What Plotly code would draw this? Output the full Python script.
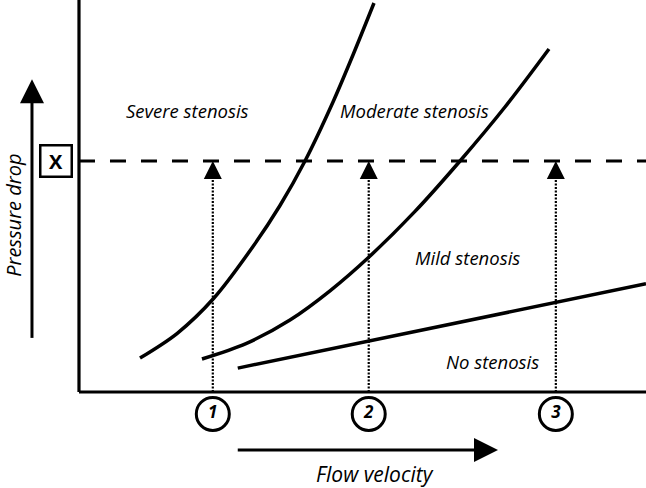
import plotly.graph_objects as go

# ---- data (flow velocity units, pressure drop units; axes origin at 0,0) ----
severe_x = [1.076, 1.728, 2.381, 3.069, 3.545, 3.986, 4.480, 4.832, 5.203]
severe_y = [0.867, 1.492, 2.398, 3.712, 4.758, 5.893, 7.398, 8.597, 9.923]

moderate_x = [2.169, 2.945, 3.721, 4.427, 5.115, 5.926, 6.720, 7.513, 8.289]
moderate_y = [0.842, 1.235, 1.837, 2.582, 3.444, 4.607, 5.893, 7.270, 8.750]

none_x = [2.80, 10.0]
none_y = [0.61, 2.76]

threshold_x = 5.89           # pressure drop "X"
flow_points = [2.36, 5.11, 8.41]
flow_labels = ["1", "2", "3"]

region_labels = ["Severe stenosis", "Moderate stenosis", "Mild stenosis", "No stenosis"]
region_x = [1.92, 5.91, 6.86, 7.30]
region_y = [7.19, 7.19, 3.42, 0.77]

# view extents (axes drawn manually so labels below/left fit in the same scale)
X_RANGE = [-1.393, 10.0]
Y_RANGE = [-2.449, 10.0]

FONT = "Open Sans"
BLACK = "black"

fig = go.Figure()


def line(xs, ys, width=3, dash=None, shape="linear"):
    fig.add_trace(go.Scatter(x=xs, y=ys, mode="lines",
                             line=dict(color=BLACK, width=width, dash=dash,
                                       shape=shape, smoothing=0.9),
                             hoverinfo="skip", showlegend=False))


def markers(xs, ys, symbol, size, **kw):
    fig.add_trace(go.Scatter(x=xs, y=ys, mode="markers",
                             marker=dict(symbol=symbol, size=size, color=BLACK,
                                         line=dict(width=0)),
                             hoverinfo="skip", showlegend=False, **kw))


# axes lines
line([0, 0], [0, Y_RANGE[1]], width=3.2)
line([0, X_RANGE[1]], [0, 0], width=3.2)

# curves
line(severe_x, severe_y, width=3.5, shape="spline")
line(moderate_x, moderate_y, width=3.5, shape="spline")
line(none_x, none_y, width=3.5)

# dashed threshold
line([0, X_RANGE[1]], [threshold_x, threshold_x], width=3, dash="16px,15px")

# dotted vertical arrows
for fx in flow_points:
    line([fx, fx], [0, threshold_x - 0.3], width=2.2, dash="2px,1.5px")
markers(flow_points, [threshold_x] * len(flow_points), "arrow-up", 18)

# circled numbers
fig.add_trace(go.Scatter(x=flow_points, y=[-0.56] * len(flow_points),
                         mode="markers+text", text=flow_labels,
                         textposition="middle center",
                         textfont=dict(family=FONT, size=17, color=BLACK,
                                       weight="bold", style="italic"),
                         marker=dict(symbol="circle", size=33, color="white",
                                     line=dict(color=BLACK, width=3)),
                         hoverinfo="skip", showlegend=False))

# pressure drop arrow (left)
line([-0.829, -0.829], [1.38, 7.5], width=3)
markers([-0.829], [7.98], "arrow-up", 24)

# flow velocity arrow (bottom)
line([2.80, 7.2], [-1.48, -1.48], width=3)
markers([7.39], [-1.48], "arrow-right", 24)

# region labels
for t, x, y in zip(region_labels, region_x, region_y):
    fig.add_annotation(x=x, y=y, text=t, showarrow=False,
                       font=dict(family=FONT, size=18.5, color=BLACK, style="italic"))

fig.add_annotation(x=5.22, y=-2.10, text="Flow velocity", showarrow=False,
                   borderpad=0,
                   font=dict(family=FONT, size=21, color=BLACK, style="italic"))
fig.add_annotation(x=-1.16, y=4.5, text="Pressure drop", showarrow=False,
                   textangle=-90, borderpad=0,
                   font=dict(family=FONT, size=20, color=BLACK, style="italic"))
fig.add_annotation(x=-0.40, y=5.89, text="<b>X</b>", showarrow=False,
                   bordercolor=BLACK, borderwidth=2.5, width=27, height=27,
                   borderpad=1, bgcolor="white",
                   font=dict(family=FONT, size=20, color=BLACK))

fig.update_layout(
    width=646, height=488,
    margin=dict(l=0, r=0, t=0, b=0),
    paper_bgcolor="white", plot_bgcolor="white",
    xaxis=dict(range=X_RANGE, visible=False, fixedrange=True),
    yaxis=dict(range=Y_RANGE, visible=False, fixedrange=True),
)

fig.write_html("out.html",
               config={"displayModeBar": False},
               post_script="document.body.style.margin='0';"
                           "document.documentElement.style.overflow='hidden';")
